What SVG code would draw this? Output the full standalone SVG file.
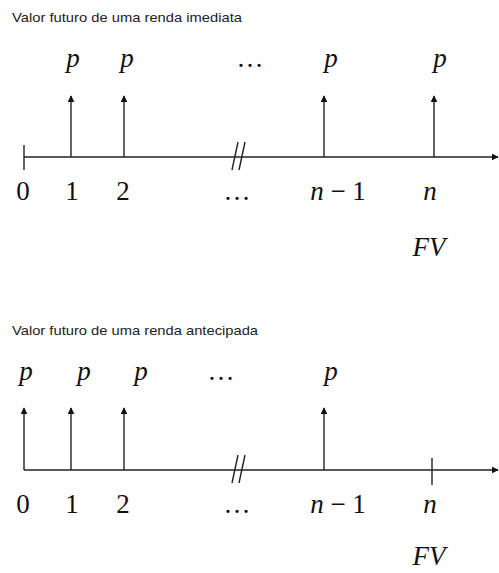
<svg xmlns="http://www.w3.org/2000/svg" width="499" height="573" viewBox="0 0 499 573">
<defs>
<style>
.ln{stroke:#222;stroke-width:1.4;fill:none}
.ttl{font-family:"Liberation Sans",Arial,sans-serif;font-size:13px;fill:#222}
.m{font-family:"Liberation Serif","Times New Roman",serif;font-size:27px;fill:#111;text-anchor:middle}
.i{font-style:italic}
</style>
<marker id="ah" viewBox="0 0 10 10" refX="9" refY="5" markerWidth="7" markerHeight="7" markerUnits="userSpaceOnUse" orient="auto">
<path d="M0,0 L10,5 L0,10 z" fill="#111"/>
</marker>
</defs>
<rect width="499" height="573" fill="#fff"/>

<g id="top">
<text class="ttl" x="12" y="22" textLength="230" lengthAdjust="spacingAndGlyphs">Valor futuro de uma renda imediata</text>
<g id="top-connectors">
<line class="ln" x1="24" y1="157" x2="498" y2="157" marker-end="url(#ah)"/>
<line class="ln" x1="24" y1="145" x2="24" y2="170"/>
<line class="ln" x1="71" y1="157" x2="71" y2="96" marker-end="url(#ah)"/>
<line class="ln" x1="124" y1="157" x2="124" y2="96" marker-end="url(#ah)"/>
<line class="ln" x1="324" y1="157" x2="324" y2="96" marker-end="url(#ah)"/>
<line class="ln" x1="434" y1="157" x2="434" y2="96" marker-end="url(#ah)"/>
<line class="ln" x1="232" y1="170" x2="238" y2="142"/>
<line class="ln" x1="239" y1="170" x2="245" y2="142"/>
</g>
<g id="top-p">
<text class="m i" x="73" y="67">p</text>
<text class="m i" x="127" y="67">p</text>
<text class="m" x="250" y="67">…</text>
<text class="m i" x="331" y="67">p</text>
<text class="m i" x="440" y="67">p</text>
</g>
<g id="top-labels">
<text class="m" x="23" y="200">0</text>
<text class="m" x="72" y="200">1</text>
<text class="m" x="123" y="200">2</text>
<text class="m" x="237" y="200">…</text>
<text class="m" x="338" y="200"><tspan class="i">n</tspan> − 1</text>
<text class="m i" x="430" y="200">n</text>
<text class="m i" x="429" y="256">FV</text>
</g>
</g>

<g id="bottom">
<text class="ttl" x="12" y="335" textLength="246" lengthAdjust="spacingAndGlyphs">Valor futuro de uma renda antecipada</text>
<g id="bottom-connectors">
<line class="ln" x1="24" y1="470" x2="498" y2="470" marker-end="url(#ah)"/>
<line class="ln" x1="24" y1="470" x2="24" y2="408" marker-end="url(#ah)"/>
<line class="ln" x1="71" y1="470" x2="71" y2="408" marker-end="url(#ah)"/>
<line class="ln" x1="124" y1="470" x2="124" y2="408" marker-end="url(#ah)"/>
<line class="ln" x1="324" y1="470" x2="324" y2="408" marker-end="url(#ah)"/>
<line class="ln" x1="432" y1="458" x2="432" y2="485"/>
<line class="ln" x1="232" y1="483" x2="238" y2="455"/>
<line class="ln" x1="239" y1="483" x2="245" y2="455"/>
</g>
<g id="bottom-p">
<text class="m i" x="26" y="380">p</text>
<text class="m i" x="84" y="380">p</text>
<text class="m i" x="141" y="380">p</text>
<text class="m" x="221" y="380">…</text>
<text class="m i" x="331" y="380">p</text>
</g>
<g id="bottom-labels">
<text class="m" x="23" y="513">0</text>
<text class="m" x="72" y="513">1</text>
<text class="m" x="123" y="513">2</text>
<text class="m" x="237" y="513">…</text>
<text class="m" x="338" y="513"><tspan class="i">n</tspan> − 1</text>
<text class="m i" x="430" y="513">n</text>
<text class="m i" x="429" y="565">FV</text>
</g>
</g>
</svg>
